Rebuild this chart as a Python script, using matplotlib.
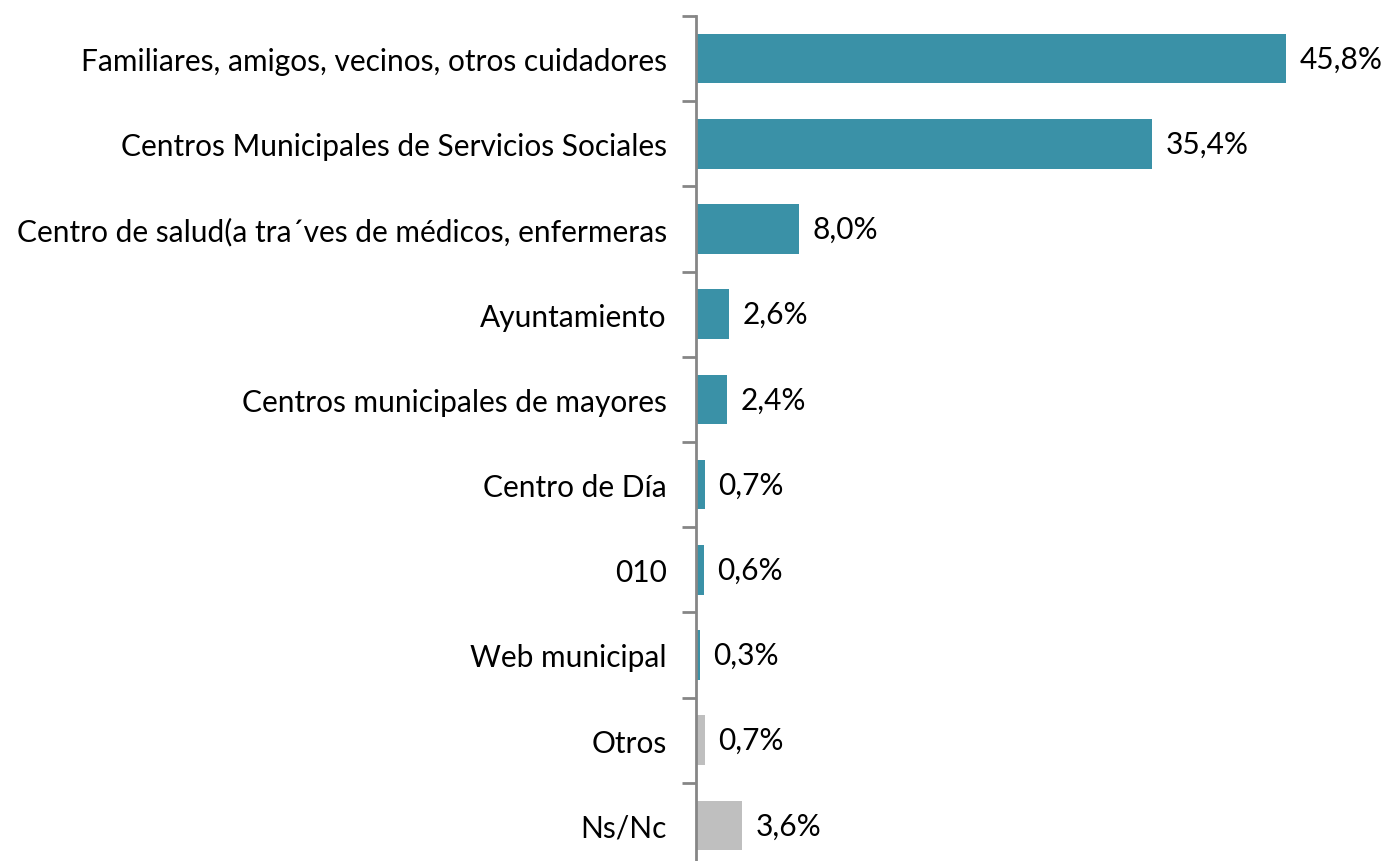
import matplotlib
matplotlib.use("Agg")
import matplotlib.pyplot as plt

categories = [
    "Familiares, amigos, vecinos, otros cuidadores",
    "Centros Municipales de Servicios Sociales",
    "Centro de salud(a tra´ves de médicos, enfermeras",
    "Ayuntamiento",
    "Centros municipales de mayores",
    "Centro de Día",
    "010",
    "Web municipal",
    "Otros",
    "Ns/Nc",
]
values = [45.8, 35.4, 8.0, 2.6, 2.4, 0.7, 0.6, 0.3, 0.7, 3.6]
labels = ["45,8%", "35,4%", "8,0%", "2,6%", "2,4%", "0,7%", "0,6%", "0,3%", "0,7%", "3,6%"]
teal = "#3A91A7"
grey = "#BFBFBF"
colors = [teal] * 8 + [grey] * 2

plt.rcParams['font.family'] = ['Lato', 'DejaVu Sans']

fig = plt.figure(figsize=(13.85, 8.62), dpi=100)
ax = fig.add_axes([696/1385, -7/862, 644/1385, 852/862])

n = len(categories)
ypos = list(range(n))
ax.barh(ypos, values, height=0.58, color=colors, zorder=2)
ax.set_ylim(n - 0.5, -0.5)
ax.set_xlim(0, 50)

for y, v, lab in zip(ypos, values, labels):
    ax.text(v + 1.05, y, lab, va='center', ha='left', fontsize=21.5, color='black')

ax.set_yticks(ypos)
ax.set_yticklabels(categories, fontsize=21.5)
ax.tick_params(axis='y', length=0, pad=21)
ax.set_yticks([i - 0.5 for i in range(n + 1)], minor=True)
ax.tick_params(axis='y', which='minor', length=10, width=2, color='#868686')
ax.set_xticks([])
for s in ['top', 'right', 'bottom']:
    ax.spines[s].set_visible(False)
ax.spines['left'].set_color('#868686')
ax.spines['left'].set_linewidth(2)

fig.savefig("out.png", dpi=100)
